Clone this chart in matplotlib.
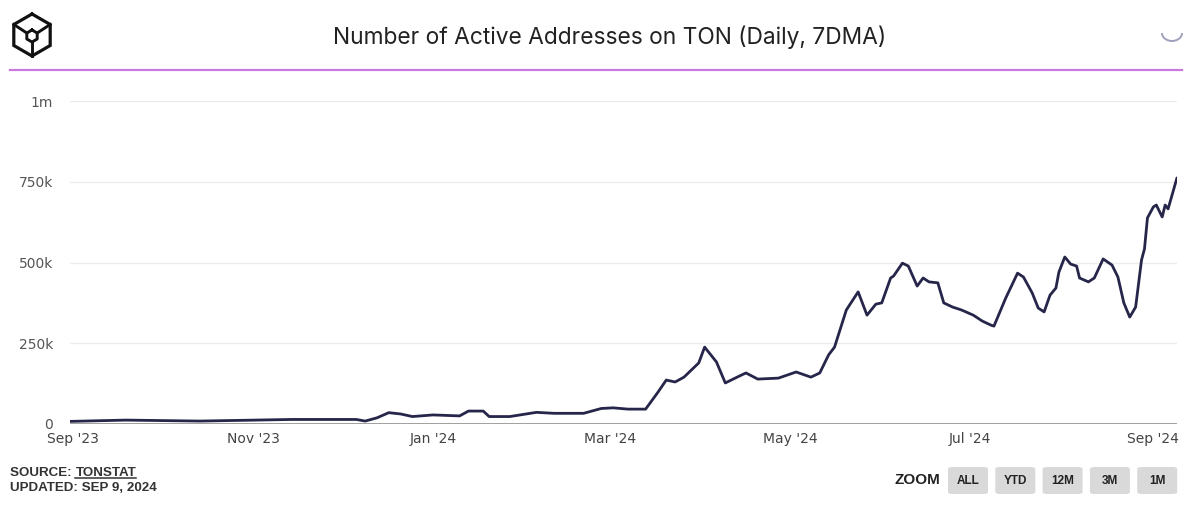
import numpy as np
import pandas as pd
import matplotlib
matplotlib.use('Agg')
import matplotlib.pyplot as plt
import matplotlib.dates as mdates
from matplotlib.patches import FancyBboxPatch, Arc
from matplotlib.lines import Line2D

# values (7 day moving average of active addresses)
dates = ['2023-08-31', '2023-09-19', '2023-10-14', '2023-11-14', '2023-12-06', '2023-12-09',
         '2023-12-13', '2023-12-17', '2023-12-21', '2023-12-25', '2024-01-01', '2024-01-10',
         '2024-01-13', '2024-01-18', '2024-01-20', '2024-01-27', '2024-02-05', '2024-02-11',
         '2024-02-21', '2024-02-27', '2024-03-02', '2024-03-07', '2024-03-13', '2024-03-17',
         '2024-03-20', '2024-03-23', '2024-03-26', '2024-03-31', '2024-04-02', '2024-04-06',
         '2024-04-09', '2024-04-13', '2024-04-16', '2024-04-20', '2024-04-27', '2024-05-03',
         '2024-05-08', '2024-05-11', '2024-05-14', '2024-05-16', '2024-05-20', '2024-05-24',
         '2024-05-27', '2024-05-30', '2024-06-01', '2024-06-04', '2024-06-05', '2024-06-08',
         '2024-06-10', '2024-06-13', '2024-06-15', '2024-06-17', '2024-06-20', '2024-06-22',
         '2024-06-25', '2024-06-28', '2024-07-02', '2024-07-05', '2024-07-08', '2024-07-09',
         '2024-07-13', '2024-07-17', '2024-07-19', '2024-07-22', '2024-07-24', '2024-07-26',
         '2024-07-28', '2024-07-30', '2024-07-31', '2024-08-02', '2024-08-04', '2024-08-06',
         '2024-08-07', '2024-08-10', '2024-08-12', '2024-08-15', '2024-08-18', '2024-08-20',
         '2024-08-22', '2024-08-24', '2024-08-26', '2024-08-28', '2024-08-29', '2024-08-30',
         '2024-09-01', '2024-09-02', '2024-09-04', '2024-09-05', '2024-09-06', '2024-09-09']
active = [8000, 12000, 9000, 14000, 14000, 9000,
          19000, 35000, 31000, 23000, 28000, 25000,
          40000, 40000, 23000, 23000, 36000, 33000,
          33000, 48000, 50000, 46000, 46000, 96000,
          136000, 130000, 145000, 189000, 238000, 192000,
          127000, 145000, 158000, 139000, 142000, 161000,
          145000, 158000, 214000, 238000, 353000, 409000,
          337000, 371000, 375000, 452000, 458000, 498000,
          489000, 427000, 452000, 440000, 437000, 375000,
          362000, 353000, 337000, 319000, 306000, 303000,
          390000, 467000, 455000, 405000, 359000, 347000,
          399000, 421000, 470000, 517000, 495000, 489000,
          452000, 440000, 452000, 511000, 492000, 455000,
          375000, 331000, 362000, 508000, 542000, 638000,
          672000, 678000, 641000, 678000, 666000, 762000]
yticks = [0, 250000, 500000, 750000, 1000000]
ylabels = ['0', '250k', '500k', '750k', '1m']
buttons = ['ALL', 'YTD', '12M', '3M', '1M']

df = pd.DataFrame({'date': pd.to_datetime(dates), 'active': active})

fig = plt.figure(figsize=(12, 5.11), dpi=100)
ax = fig.add_axes([0.0583, 0.1703, 0.9225, 0.632])

ax.plot(df['date'], df['active'], color='#26254a', lw=2.0, solid_joinstyle='round',
        solid_capstyle='round', zorder=3)

ax.set_xlim(df['date'].iloc[0], df['date'].iloc[-1])
ax.set_ylim(0, 1000000)
ax.set_yticks(yticks)
ax.set_yticklabels(ylabels)
ax.grid(axis='y', color='#ececec', lw=1)
ax.axhline(0, color='#a0a0a0', lw=1.4, zorder=2)
for s in ax.spines.values():
    s.set_visible(False)
ax.xaxis.set_major_locator(mdates.MonthLocator(bymonth=[1, 3, 5, 7, 9, 11]))
ax.xaxis.set_major_formatter(mdates.DateFormatter("%b '%y"))
ax.tick_params(axis='both', length=0, labelsize=10, colors='#444444')
ax.tick_params(axis='y', pad=12, colors='#555555')
ax.tick_params(axis='x', pad=6)

# title and header rule
fig.text(0.508, 0.927, 'Number of Active Addresses on TON (Daily, 7DMA)', ha='center', va='center',
         fontsize=16.4, color='#222222', family='Inter')
fig.add_artist(Line2D([10 / 1200, 1182 / 1200], [1 - 70 / 511] * 2, color='#c879e0', lw=1.6))

# logo (cube in hexagon)
cx, cy, r = 32, 35, 21
ang = np.deg2rad([90, 30, -30, -90, -150, 150, 90])
hx = (cx + r * np.cos(ang)) / 1200
hy = 1 - (cy - r * np.sin(ang)) / 511
fig.add_artist(Line2D(hx, hy, color='#111111', lw=2.3, solid_joinstyle='miter'))
ir = 6
ix = (cx + ir * np.cos(ang)) / 1200
iy = 1 - (cy + 1 - ir * np.sin(ang)) / 511
fig.add_artist(Line2D(ix, iy, color='#111111', lw=2.1))
for k in [1, 3, 5]:
    fig.add_artist(Line2D([(cx + r * np.cos(ang[k])) / 1200, ix[k]],
                          [1 - (cy - r * np.sin(ang[k])) / 511, iy[k]], color='#111111', lw=2.1))

# faint icon top right
fig.add_artist(Arc((1172 / 1200, 1 - 33 / 511), 20 / 1200, 16 / 511, theta1=180, theta2=360,
                   color='#a0a0bc', lw=1.4, transform=fig.transFigure))

# source note
t1 = fig.text(10 / 1200, 1 - 473 / 511, 'SOURCE: ', fontsize=9.6, fontweight='bold', color='#333333',
              family='Liberation Sans', va='center')
fig.text(10 / 1200, 1 - 488 / 511, 'UPDATED: SEP 9, 2024', fontsize=9.6, fontweight='bold', color='#333333',
         family='Liberation Sans', va='center')
fig.canvas.draw()
bb = t1.get_window_extent().transformed(fig.transFigure.inverted())
t2 = fig.text(bb.x1, 1 - 473 / 511, 'TONSTAT', fontsize=9.6, fontweight='bold', color='#333333',
              family='Liberation Sans', va='center')
fig.canvas.draw()
bb2 = t2.get_window_extent().transformed(fig.transFigure.inverted())
fig.add_artist(Line2D([bb2.x0, bb2.x1], [bb2.y0 + 1 / 511] * 2, color='#333333', lw=1.1))

# zoom buttons
fig.text(917 / 1200, 1 - 480 / 511, 'ZOOM', fontsize=11, fontweight='bold', color='#222222',
         family='Liberation Sans', ha='center', va='center')
for i, b in enumerate(buttons):
    x0 = 948 + i * 47.3
    fig.add_artist(FancyBboxPatch((x0 / 1200, 1 - 494 / 511), 40 / 1200, 27 / 511,
                                  boxstyle='round,pad=0,rounding_size=0.004', transform=fig.transFigure,
                                  facecolor='#d9d9d9', edgecolor='none'))
    fig.text((x0 + 20) / 1200, 1 - 481 / 511, b, fontsize=8.5, fontweight='bold', color='#222222',
             family='Liberation Sans', ha='center', va='center')

fig.savefig('out.png', dpi=100, facecolor='white')
